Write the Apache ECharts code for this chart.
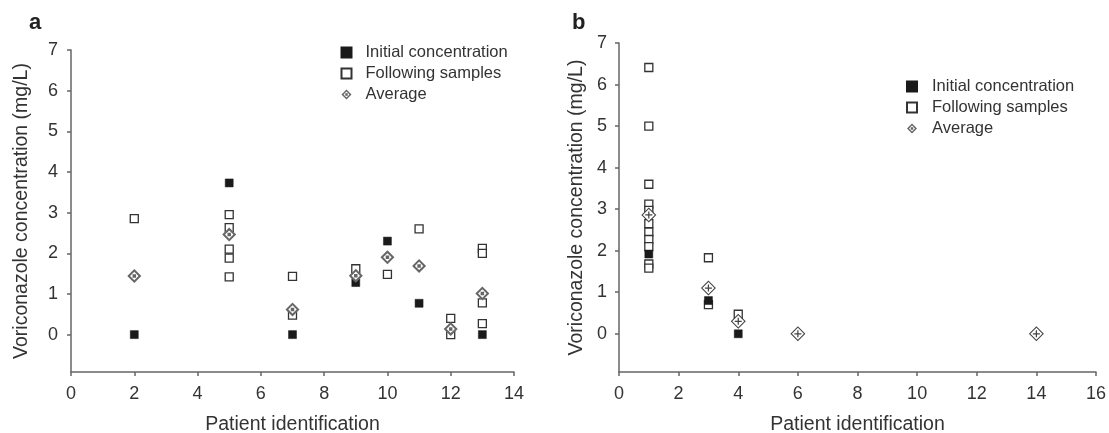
<!DOCTYPE html>
<html>
<head>
<meta charset="utf-8">
<script src="https://cdn.jsdelivr.net/npm/echarts@6/dist/echarts.min.js"></script>
<style>
  html, body { margin: 0; padding: 0; background: #fff; }
  #main { width: 1109px; height: 433px; }
</style>
</head>
<body>
<div id="main"></div>
<script type="text/javascript">
// panel a
var aInitial = [[2, 0], [5, 3.73], [7, 0], [9, 1.28], [10, 2.3], [11, 0.77], [13, 0]];
var aFollowing = [[2, 2.85], [5, 2.95], [5, 2.63], [5, 2.1], [5, 1.88], [5, 1.42],
  [7, 1.43], [7, 0.48], [9, 1.62], [10, 1.48], [11, 2.6], [12, 0.4], [12, 0],
  [13, 2.12], [13, 2.0], [13, 0.78], [13, 0.27]];
var aAverage = [[2, 1.44], [5, 2.46], [7, 0.62], [9, 1.45], [10, 1.9], [11, 1.69], [12, 0.14], [13, 1.01]];
// panel b
var bInitial = [[1, 1.92], [3, 0.8], [4, 0]];
var bFollowing = [[1, 6.41], [1, 5.0], [1, 3.6], [1, 3.12], [1, 2.97], [1, 2.65], [1, 2.45],
  [1, 2.27], [1, 2.1], [1, 1.68], [1, 1.58], [3, 1.83], [3, 0.7], [4, 0.47]];
var bAverage = [[1, 2.86], [3, 1.1], [4, 0.3], [6, 0], [14, 0]];

var yTicks = [0, 1, 2, 3, 4, 5, 6, 7];
var legendNames = ['Initial concentration', 'Following samples', 'Average'];

var font = 'Liberation Sans, Arial, sans-serif';
var axisColor = '#666';
var textColor = '#333';

// diamond ring with a dot (a) or a plus (b) in the middle
var diamondDot = 'path://M0,-6 L6,0 L0,6 L-6,0 Z M0,-3.6 L-3.6,0 L0,3.6 L3.6,0 Z M-1.5,-1.5 L1.5,-1.5 L1.5,1.5 L-1.5,1.5 Z';
var diamondPlus = 'path://M0,-6 L6,0 L0,6 L-6,0 Z M0,-4.8 L-4.8,0 L0,4.8 L4.8,0 Z ' +
  'M-0.5,-2.8 L0.5,-2.8 L0.5,-0.5 L2.8,-0.5 L2.8,0.5 L0.5,0.5 L0.5,2.8 L-0.5,2.8 L-0.5,0.5 L-2.8,0.5 L-2.8,-0.5 L-0.5,-0.5 Z';

function xAxisOf(idx, max) {
  return {
    type: 'value', gridIndex: idx, min: 0, max: max, interval: 2,
    name: 'Patient identification', nameLocation: 'middle', nameGap: 43,
    nameTextStyle: { fontFamily: font, fontSize: 19.5, color: textColor },
    axisLine: { onZero: false, lineStyle: { color: axisColor, width: 1.5 } },
    axisTick: { show: true, length: 4, lineStyle: { color: axisColor, width: 1.5 } },
    axisLabel: { fontFamily: font, fontSize: 18, color: textColor, margin: 13 },
    splitLine: { show: false }
  };
}

function yAxisOf(idx, gap, margin) {
  return {
    type: 'value', gridIndex: idx, min: -0.92, max: 7,
    name: 'Voriconazole concentration (mg/L)', nameLocation: 'middle', nameGap: gap,
    nameTextStyle: { fontFamily: font, fontSize: 19.5, color: textColor },
    axisLine: { show: true, onZero: false, lineStyle: { color: axisColor, width: 1.5 } },
    axisTick: { show: true, length: 4, customValues: yTicks, lineStyle: { color: axisColor, width: 1.5 } },
    axisLabel: { fontFamily: font, fontSize: 18, color: textColor, margin: margin, customValues: yTicks },
    splitLine: { show: false }
  };
}

function legendOf(idx, left, top, pad) {
  return {
    orient: 'vertical', left: left, top: top, itemWidth: 10, itemHeight: 10,
    itemGap: 4, selectedMode: false,
    textStyle: { fontFamily: font, fontSize: 16.5, color: textColor, lineHeight: 15, padding: [0, 0, 0, pad] },
    data: legendNames.map(function (n) { return { name: n }; })
  };
}

function seriesOf(idx, initial, following, average, avgSymbol) {
  var g = idx === 0 ? 'a' : 'b';
  return [
    {
      name: 'Initial concentration', type: 'scatter', xAxisIndex: idx, yAxisIndex: idx,
      data: initial, symbol: 'rect', symbolSize: 8, z: 3,
      itemStyle: { color: '#1a1a1a', borderColor: '#1a1a1a', borderWidth: 0.5, opacity: 1 }
    },
    {
      name: 'Following samples', type: 'scatter', xAxisIndex: idx, yAxisIndex: idx,
      data: following, symbol: 'rect', symbolSize: 8, z: 2,
      itemStyle: { color: '#fff', borderColor: '#333', borderWidth: 1.3, opacity: 1 }
    },
    {
      name: 'bg' + g, type: 'scatter', xAxisIndex: idx, yAxisIndex: idx,
      data: average, symbol: 'diamond', symbolSize: 13, z: 4, silent: true,
      itemStyle: { color: '#fff', opacity: 1 }
    },
    {
      name: 'Average', type: 'scatter', xAxisIndex: idx, yAxisIndex: idx,
      data: average, symbol: avgSymbol, symbolSize: idx === 0 ? 14 : 15, z: 5,
      itemStyle: { color: idx === 0 ? '#666' : '#444', opacity: 1 }
    }
  ];
}

var chart = echarts.init(document.getElementById('main'));
var option = {
  backgroundColor: '#fff',
  animation: false,
  grid: [
    { left: 71, top: 50, width: 443, height: 322, outerBoundsMode: 'none', containLabel: false },
    { left: 619, top: 43, width: 477, height: 329, outerBoundsMode: 'none', containLabel: false }
  ],
  xAxis: [xAxisOf(0, 14), xAxisOf(1, 16)],
  yAxis: [yAxisOf(0, 39, 13), yAxisOf(1, 32, 12)],
  legend: [legendOf(0, 335.5, 39, 9), legendOf(1, 901, 73, 10)],
  graphic: [
    { type: 'text', left: 29, top: 12, style: { text: 'a', fontFamily: font, fontSize: 22, fontWeight: 'bold', fill: '#222' } },
    { type: 'text', left: 572, top: 12, style: { text: 'b', fontFamily: font, fontSize: 22, fontWeight: 'bold', fill: '#222' } }
  ],
  series: seriesOf(0, aInitial, aFollowing, aAverage, diamondDot)
    .concat(seriesOf(1, bInitial, bFollowing, bAverage, diamondPlus))
};
chart.setOption(option);
</script>
</body>
</html>
